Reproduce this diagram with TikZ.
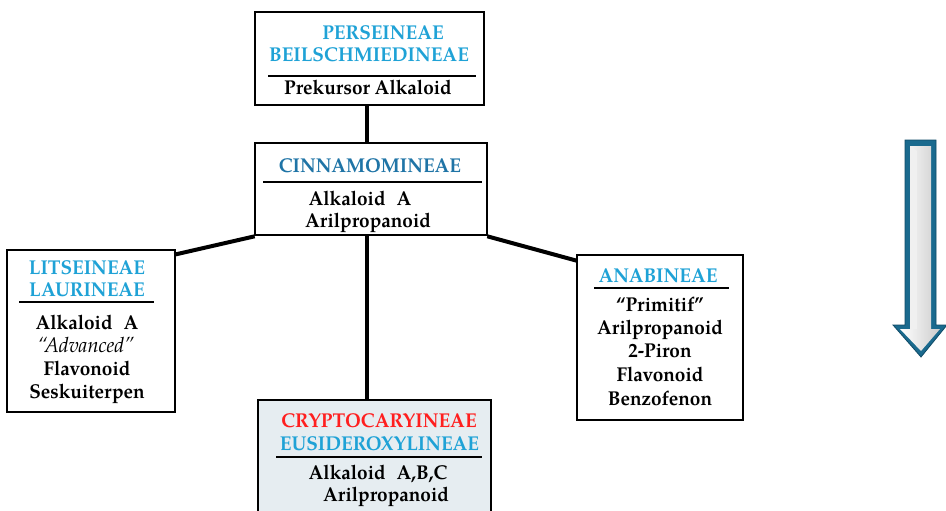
\documentclass[tikz,border=0pt]{standalone}
\usepackage{fontspec}
\setmainfont[FakeStretch=0.95]{TeX Gyre Pagella}
\definecolor{lblue}{HTML}{1FA2D6}
\definecolor{dblue}{HTML}{1F74A6}
\definecolor{cred}{HTML}{FF1F1F}
\definecolor{bfill}{HTML}{E6EDF1}
\definecolor{arrowdark}{HTML}{1A6A8E}
\definecolor{arrowedge}{HTML}{0F4A66}
\begin{document}
\begin{tikzpicture}[x=1pt,y=-1pt,
  box/.style={draw=black,line width=2.6pt,inner sep=0pt},
  txt/.style={font=\fontsize{20}{23}\selectfont\bfseries,inner sep=0pt,anchor=base},
  sep/.style={line width=2.2pt},
  conn/.style={line width=4pt}]
\useasboundingbox (0,0) rectangle (946,511);
% boxes
\node[box,minimum width=229pt,minimum height=93pt] (top) at (369.5,58.5) {};
\node[box,minimum width=232pt,minimum height=92pt] (cinn) at (371,189) {};
\node[box,minimum width=168pt,minimum height=162pt] (left) at (91,331) {};
\node[box,minimum width=166pt,minimum height=165pt] (right) at (660,337.5) {};
\node[box,fill=bfill,minimum width=233pt,minimum height=130pt] (bot) at (374.5,465) {};
% connectors
\draw[conn] ([xshift=-3pt]top.south) -- ([xshift=-3pt]top.south |- cinn.north);
\draw[conn] ([xshift=-4pt]cinn.south) -- ([xshift=-4pt]cinn.south |- bot.north);
\draw[conn] ([xshift=1pt]cinn.south west) -- ([yshift=-6pt,xshift=-2pt]left.north east);
\draw[conn] ([xshift=-1pt]cinn.south east) -- ([yshift=-7pt,xshift=1pt]right.north west);
% top box text
\node[txt,text=lblue] (t1) at (383,40) {PERSEINEAE};
\node[txt,text=lblue] (t2) at (369,62) {BEILSCHMIEDINEAE};
\draw[sep] (268,76) coordinate (ts1) -- (476,76) coordinate (ts2);
\node[txt] (t3) at (368,95) {Prekursor Alkaloid};
% cinn text
\node[txt,text=dblue] (c1) at (370,172) {CINNAMOMINEAE};
\draw[sep] (263,182) coordinate (cs1) -- (482,182) coordinate (cs2);
\node[txt] (c2) at (360,205) {Alkaloid\hspace{0.55em}A};
\node[txt] (c3) at (368,227) {Arilpropanoid};
% left text
\node[txt,text=lblue] (l1) at (87,274) {LITSEINEAE};
\node[txt,text=lblue] (l2) at (87,296) {LAURINEAE};
\draw[sep] (19,302) coordinate (ls1) -- (154,302) coordinate (ls2);
\node[txt] (l3) at (87,329) {Alkaloid\hspace{0.55em}A};
\node[txt,font=\fontsize{21}{23}\selectfont\itshape] (l4) at (86,352) {“Advanced”};
\node[txt] (l5) at (87,375) {Flavonoid};
\node[txt] (l6) at (87,398) {Seskuiterpen};
% right text
\node[txt,text=lblue] (r1) at (658,282) {ANABINEAE};
\draw[sep] (594,288) coordinate (rs1) -- (729,288) coordinate (rs2);
\node[txt] (r2) at (660,311) {“Primitif”};
\node[txt] (r3) at (660,334) {Arilpropanoid};
\node[txt] (r4) at (660,357) {2-Piron};
\node[txt] (r5) at (660,381) {Flavonoid};
\node[txt] (r6) at (660,405) {Benzofenon};
% bottom text
\node[txt,text=cred] (b1) at (379,427) {CRYPTOCARYINEAE};
\node[txt,text=lblue] (b2) at (379.5,450) {EUSIDEROXYLINEAE};
\draw[sep] (276,457) coordinate (bs1) -- (482,457) coordinate (bs2);
\node[txt] (b3) at (378,479) {Alkaloid\hspace{0.55em}A,B,C};
\node[txt] (b4) at (386,501) {Arilpropanoid};
% arrow
\fill[arrowdark,draw=arrowedge,line width=0.8pt] (905,140) -- (936,140) -- (936,325) -- (947,325) -- (921,357) -- (893,325) -- (905,325) -- cycle;
\shade[left color=white,right color=gray!40] (910,146) -- (931,146) -- (931,329) -- (940,329) -- (921,351) -- (900,329) -- (910,329) -- cycle;
\fill[white!88!gray] (910,146) -- (917,151) -- (917,329) -- (910,329) -- cycle;
\end{tikzpicture}
\end{document}
